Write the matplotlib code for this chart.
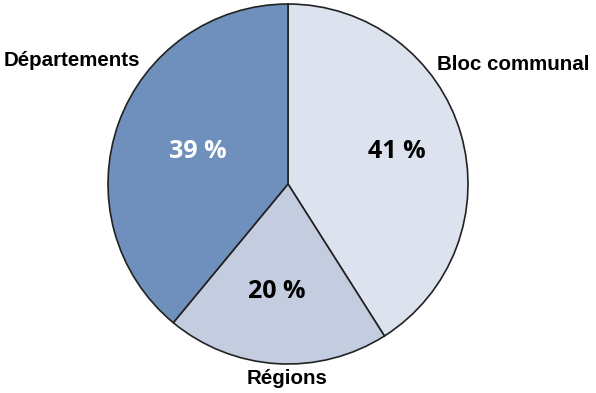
import matplotlib.pyplot as plt

categories = ["Bloc communal", "Régions", "Départements"]
shares = [41, 20, 39]
colors = ["#DDE3EE", "#C3CDDF", "#6F8FBC"]
pct_colors = ["black", "black", "white"]

W, H = 596, 393
CX, CY, R = 288, 184, 180


def to_data(px, py):
    return (px - CX) / R, (CY - py) / R


fig = plt.figure(figsize=(W / 100, H / 100), dpi=100)
ax = fig.add_axes([(CX - R) / W, (H - CY - R) / H, 2 * R / W, 2 * R / H])
ax.pie(shares, colors=colors, startangle=90, counterclock=False,
       wedgeprops=dict(edgecolor="#222222", linewidth=1.2))
ax.set_xlim(-1, 1)
ax.set_ylim(-1, 1)
ax.set_aspect("auto")

label_pos = [(513, 64), (287, 378), (72, 60)]
pct_pos = [(397, 151), (277, 291), (198, 151)]

for cat, val, lp, pp, pc in zip(categories, shares, label_pos, pct_pos, pct_colors):
    x, y = to_data(*lp)
    ax.text(x, y, cat, ha="center", va="center", fontsize=14.8, fontweight="bold",
            family="Liberation Sans", clip_on=False)
    x, y = to_data(*pp)
    ax.text(x, y, f"{val} %", ha="center", va="center", fontsize=18, fontweight="bold",
            family="Open Sans", color=pc, clip_on=False)

fig.savefig("out.png", dpi=100)
